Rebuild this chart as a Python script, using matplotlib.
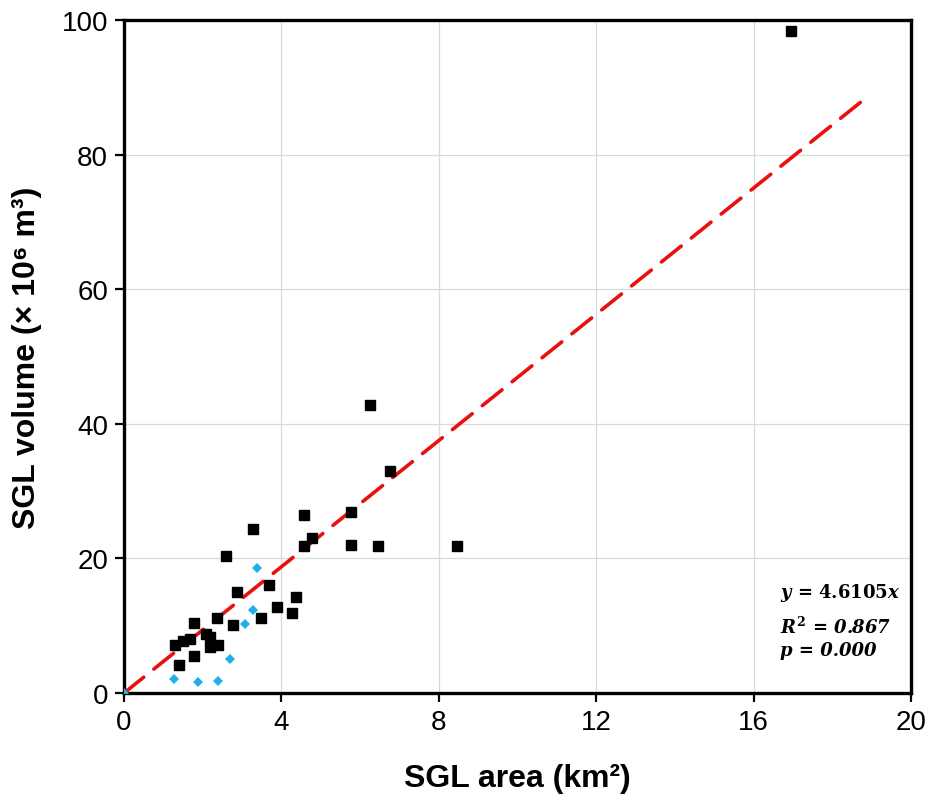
import matplotlib
matplotlib.use("Agg")
import matplotlib.pyplot as plt

# Data
area_black = [4.58, 5.77, 3.27, 4.78, 4.58, 5.77, 6.46, 2.58, 3.69, 2.87, 4.38, 3.89, 4.28,
              3.48, 2.37, 2.78, 1.79, 2.08, 2.18, 1.67, 1.49, 1.30, 2.38, 2.18, 1.79, 1.39,
              6.26, 6.77, 8.47, 16.95]
volume_black = [26.5, 26.9, 24.4, 23.0, 21.9, 22.0, 21.8, 20.3, 16.0, 14.95, 14.3, 12.8, 11.9,
                11.1, 11.1, 10.1, 10.35, 8.8, 8.4, 7.97, 7.8, 7.2, 7.2, 6.8, 5.5, 4.2,
                42.8, 33.0, 21.8, 98.3]
area_blue = [3.38, 3.28, 3.08, 2.69, 1.28, 1.89, 2.39, 0.0]
volume_blue = [18.6, 12.4, 10.2, 5.1, 2.08, 1.63, 1.8, 0.05]
trend_x = [0.0, 18.85]
trend_y = [0.0, 88.4]
x_ticks = [0, 4, 8, 12, 16, 20]
y_ticks = [0, 20, 40, 60, 80, 100]

plt.rcParams['mathtext.fontset'] = 'custom'
plt.rcParams['mathtext.rm'] = 'DejaVu Serif:bold'
plt.rcParams['mathtext.it'] = 'DejaVu Serif:bold:italic'
plt.rcParams['mathtext.bf'] = 'DejaVu Serif:bold'

fig = plt.figure(figsize=(9.35, 8.03), dpi=100)
ax = fig.add_axes([0.1326, 0.1357, 0.8417, 0.8381])

ax.grid(True, color='#d9d9d9', linewidth=0.9, zorder=0)
ax.set_axisbelow(True)

ax.plot(trend_x, trend_y, color='#e8110f', linewidth=2.6, dashes=(7.0, 3.6),
        dash_capstyle='round', zorder=2)
ax.plot(area_black, volume_black, linestyle='none', marker='s', markersize=6.6,
        color='black', zorder=3)
ax.plot(area_blue, volume_blue, linestyle='none', marker='D', markersize=4.6,
        color='#1fb0e8', markeredgewidth=0, zorder=3)

ax.set_xlim(0, 20)
ax.set_ylim(0, 100)
ax.set_xticks(x_ticks)
ax.set_yticks(y_ticks)
for s in ax.spines.values():
    s.set_linewidth(2.4)
    s.set_color('black')
ax.tick_params(direction='out', length=6.5, width=1.6, labelsize=20, pad=5)
for lab in ax.get_xticklabels() + ax.get_yticklabels():
    lab.set_fontfamily(['Liberation Sans', 'DejaVu Sans'])

ax.set_xlabel('SGL area (km²)', fontsize=23, fontweight='bold',
              family=['Liberation Sans', 'DejaVu Sans'], labelpad=20)
ax.set_ylabel('SGL volume (× 10⁶ m³)', fontsize=23, fontweight='bold',
              family=['Liberation Sans', 'DejaVu Sans'], labelpad=14)

fs = 13
ax.text(0.834, 0.150, r'$y$ = 4.6105$x$', transform=ax.transAxes, fontsize=fs,
        family='DejaVu Serif', fontweight='bold', ha='left', va='center')
ax.text(0.834, 0.100, r'$R^2$ = 0.867', transform=ax.transAxes, fontsize=fs,
        family='DejaVu Serif', fontweight='bold', style='italic', ha='left', va='center')
ax.text(0.834, 0.064, r'p = 0.000', transform=ax.transAxes, fontsize=fs,
        family='DejaVu Serif', fontweight='bold', style='italic', ha='left', va='center')

fig.savefig('out.png', dpi=100)
